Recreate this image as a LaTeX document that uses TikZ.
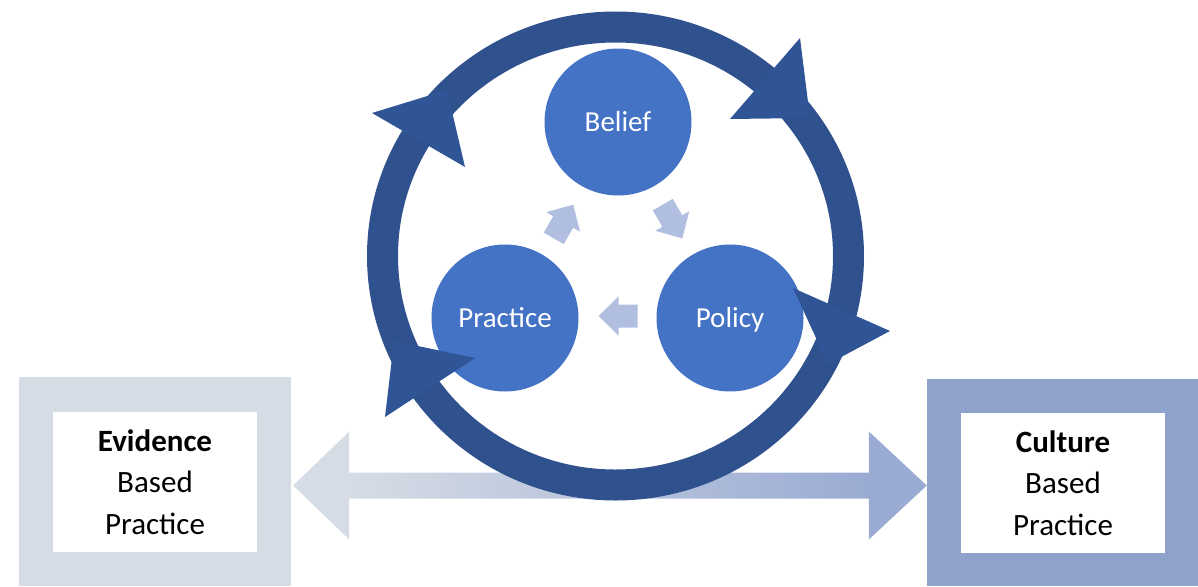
\documentclass[tikz,border=0pt]{standalone}
\usepackage{fontspec}
\setmainfont{Carlito}
\usetikzlibrary{calc}

\definecolor{ringblue}{HTML}{2F528F}
\definecolor{headblue}{HTML}{2F5597}
\definecolor{nodeblue}{HTML}{4472C4}
\definecolor{flowblue}{HTML}{B0BEE0}
\definecolor{evfill}{HTML}{D6DCE5}
\definecolor{cufill}{HTML}{8FA2CB}
\definecolor{cuhead}{HTML}{9AABD3}

% left-to-right fade of the two-headed bridge arrow
\pgfdeclarehorizontalshading{bridgeshade}{100bp}{%
  color(0bp)=(evfill); color(29.4bp)=(evfill);
  color(70.4bp)=(cuhead); color(100bp)=(cuhead)}

\begin{document}
\begin{tikzpicture}[x=1pt,y=-1pt,
  stage/.style={circle, fill=nodeblue, minimum size=147pt, inner sep=0pt,
    text=white, font=\fontsize{29}{35}\selectfont,
    text height=18pt, text depth=0pt},
  outerframe/.style={rectangle, inner sep=0pt, draw=none},
  card/.style={rectangle, fill=white, inner sep=0pt, align=center,
    minimum width=204pt, minimum height=140pt,
    font=\fontsize{31}{41.5}\selectfont},
  flowarrow/.pic={
    \fill[flowblue] (-19.5,-11.5) -- (-0.5,-11.5) -- (-0.5,-19.5) -- (19.5,0)
      -- (-0.5,19.5) -- (-0.5,11.5) -- (-19.5,11.5) -- cycle;}
]
\useasboundingbox (0,0) rectangle (1198,586);

% side frames
\node[outerframe, fill=evfill, minimum width=272pt, minimum height=209pt]
  (evouter) at (155,481.5) {};
\node[outerframe, fill=cufill, minimum width=271pt, minimum height=207pt]
  (cuouter) at (1062.5,482.5) {};
\node[card] (evcard) at (155,482) {\textbf{Evidence}\\Based\\Practice};
\node[card] (cucard) at (1063,483) {\textbf{Culture}\\Based\\Practice};

% two-headed bridge arrow between the frames
\coordinate (lt) at ($(evouter.east)+(2,4)$);
\coordinate (rt) at ($(cuouter.west)+(0,3)$);
\shade[shading=bridgeshade]
  (lt) -- ($(lt)+(56,-54)$) -- ($(lt)+(56,-13)$) -- ($(rt)+(-58,-13)$)
  -- ($(rt)+(-58,-54)$) -- (rt) -- ($(rt)+(-58,54)$) -- ($(rt)+(-58,13)$)
  -- ($(lt)+(56,13)$) -- ($(lt)+(56,54)$) -- cycle;

% the three stages
\coordinate (mid) at (618,253);
\node[stage] (belief)   at (618,122) {Belief};
\node[stage] (practice) at (505,318) {Practice};
\node[stage] (policy)   at (730,318) {Policy};

% inner clockwise flow arrows
\pic[rotate=-60] at ($(mid)+(-30:63)$)  {flowarrow};
\pic[rotate=180] at ($(mid)+(90:63)$)   {flowarrow};
\pic[rotate=60]  at ($(mid)+(-150:63)$) {flowarrow};

% outer cycle ring with its four heads
\draw[ringblue, line width=31pt] (615.5,256) circle[x radius=233, y radius=229];
\fill[headblue] (372,113) -- (465,167) -- (447,90) -- cycle;
\fill[headblue] (800,38) -- (730,119) -- (810,118) -- cycle;
\fill[headblue] (793,288) -- (890,331) -- (828,364) -- cycle;
\fill[headblue] (475,358) -- (385,417) -- (394,341) -- cycle;
\end{tikzpicture}
\end{document}
